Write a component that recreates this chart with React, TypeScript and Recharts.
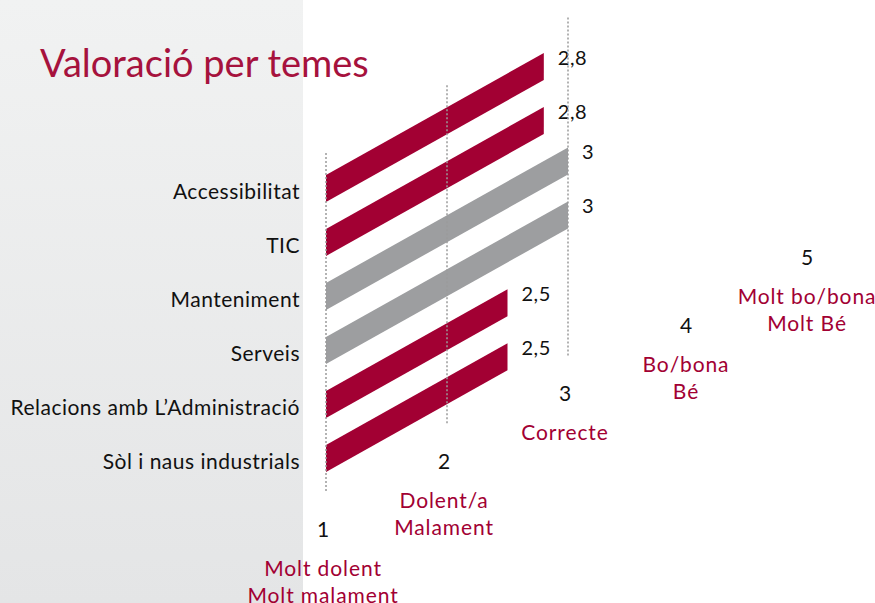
import { BarChart, Bar, XAxis, YAxis, LabelList, Cell } from "recharts";

const categories = [
  "Accessibilitat",
  "TIC",
  "Manteniment",
  "Serveis",
  "Relacions amb L’Administració",
  "Sòl i naus industrials",
];
const scores = [2.8, 2.8, 3, 3, 2.5, 2.5];

const scaleValues = [1, 2, 3, 4, 5];
const scaleNames = [
  ["Molt dolent", "Molt malament"],
  ["Dolent/a", "Malament"],
  ["Correcte"],
  ["Bo/bona", "Bé"],
  ["Molt bo/bona", "Molt Bé"],
];
const gridValues = [1, 2, 3];

const data = categories.map((name, i) => ({ name, score: scores[i] }));

const W = 875;
const H = 603;
const X_AXIS_H = 30;
const Y_AXIS_W = 326;
const MARGIN = { top: 161, right: 65, bottom: 118 - X_AXIS_H, left: 0 };
const PLOT_LEFT = MARGIN.left + Y_AXIS_W;
const PLOT_TOP = MARGIN.top;
const PLOT_BOTTOM = H - MARGIN.bottom - X_AXIS_H;
const SHEAR = 0.56; // upward shift per px to the right

const RED = "#a20033";
const GREY = "#9d9ea0";
const TITLE_RED = "#a6123d";
const FONT = "Lato, 'Noto Sans', sans-serif";

const lift = (x: number) => (x - PLOT_LEFT) * SHEAR;

// parallelogram instead of a rectangle
const SkewBar = (props: any) => {
  const { x, y, width, height, fill } = props;
  const d = width * SHEAR;
  const pts = `${x},${y} ${x + width},${y - d} ${x + width},${y + height - d} ${x},${y + height}`;
  return <polygon points={pts} fill={fill} />;
};

const ValueLabel = (props: any) => {
  const { x, y, width, height, value } = props;
  const tx = x + width + 14;
  const ty = y + height / 2 - width * SHEAR - 10;
  return (
    <text x={tx} y={ty} dominantBaseline="central" fontSize={20} letterSpacing={0.5} fill="#111" fontFamily={FONT}>
      {String(value).replace(".", ",")}
    </text>
  );
};

const CatTick = (props: any) => {
  const { y, payload } = props;
  return (
    <text
      x={PLOT_LEFT - 26}
      y={y + 2}
      textAnchor="end"
      dominantBaseline="central"
      fontSize={21}
      letterSpacing={0.5}
      fill="#111"
      fontFamily={FONT}
    >
      {payload.value}
    </text>
  );
};

const ScaleTick = (props: any) => {
  const { x, payload } = props;
  const v = payload.value;
  const up = lift(x);
  const names = scaleNames[scaleValues.indexOf(v)] || [];
  return (
    <g>
      {gridValues.includes(v) && (
        <line
          x1={x}
          x2={x}
          y1={PLOT_TOP - 8 - up}
          y2={PLOT_BOTTOM + 8 - up}
          stroke="#9a9a9a"
          strokeWidth={1.5}
          strokeDasharray="2 2"
        />
      )}
      <text x={x - 3} y={PLOT_BOTTOM + 43 - up} textAnchor="middle" dominantBaseline="central" fontSize={21} fill="#111" fontFamily={FONT}>
        {v}
      </text>
      {names.map((n, i) => (
        <text
          key={n}
          x={x - 3}
          y={PLOT_BOTTOM + 82 + 27 * i - up}
          textAnchor="middle"
          dominantBaseline="central"
          fontSize={21}
          letterSpacing={0.9}
          fill={RED}
          fontFamily={FONT}
        >
          {n}
        </text>
      ))}
    </g>
  );
};

export default function App() {
  return (
    <div style={{ position: "absolute", left: 0, top: 0, width: W, height: H, background: "#fff", overflow: "hidden" }}>
      <div
        style={{
          position: "absolute",
          left: 0,
          top: 0,
          width: 303,
          height: H,
          background: "linear-gradient(180deg, #f1f2f2 0%, #e4e5e6 100%)",
        }}
      />
      <div
        style={{
          position: "absolute",
          left: 40,
          top: 43,
          fontFamily: FONT,
          fontSize: 38,
          lineHeight: "38px",
          color: TITLE_RED,
          whiteSpace: "nowrap",
        }}
      >
        Valoració per temes
      </div>
      <div style={{ position: "absolute", left: 0, top: 0 }}>
        <BarChart width={W} height={H} data={data} layout="vertical" margin={MARGIN} barSize={27}>
          <YAxis
            type="category"
            dataKey="name"
            width={Y_AXIS_W}
            axisLine={false}
            tickLine={false}
            tick={<CatTick />}
          />
          <Bar dataKey="score" shape={<SkewBar />} isAnimationActive={false}>
            {data.map((d) => (
              <Cell key={d.name} fill={d.score >= 3 ? GREY : RED} />
            ))}
            <LabelList dataKey="score" content={<ValueLabel />} />
          </Bar>
          <XAxis
            type="number"
            domain={[1, 5]}
            ticks={scaleValues}
            interval={0}
            height={X_AXIS_H}
            axisLine={false}
            tickLine={false}
            tick={<ScaleTick />}
          />
        </BarChart>
      </div>
    </div>
  );
}
